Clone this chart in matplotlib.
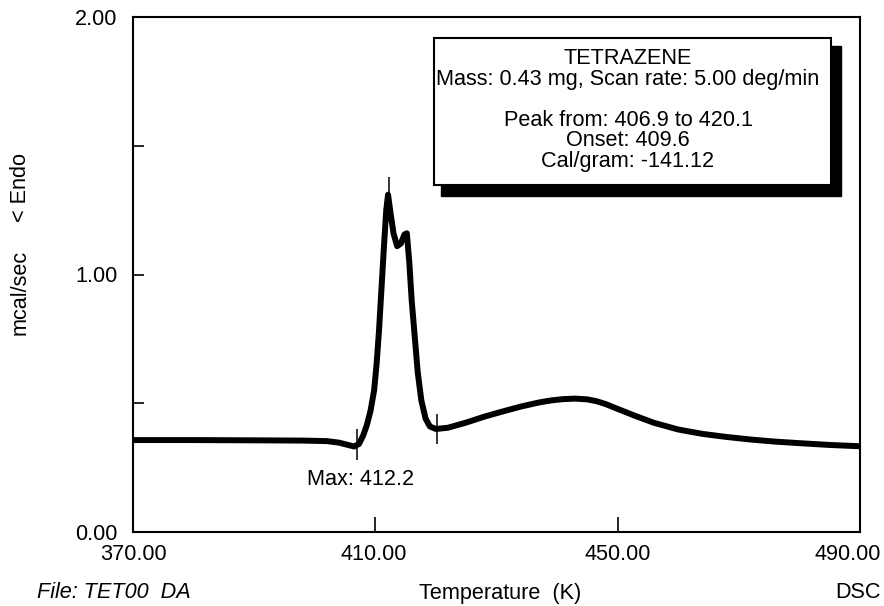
import matplotlib
matplotlib.use("Agg")
import matplotlib.pyplot as plt
from matplotlib.patches import Rectangle
import matplotlib.transforms as mtransforms

plt.rcParams['font.family'] = ['Liberation Sans', 'DejaVu Sans']

# ---- data ----
temperature = [370, 380, 390, 398, 402, 404, 405.5, 406.5, 407.3, 408.0, 408.6,
               409.2, 409.8, 410.2, 410.6, 411.0, 411.4, 411.8, 412.1, 412.5,
               413.0, 413.6, 414.2, 414.8, 415.2, 415.6, 416.0, 416.5, 417.0,
               417.6, 418.3, 419.0, 420.0, 422, 425, 428, 431, 434, 437, 439, 441,
               443, 445, 446.5, 448, 450, 453, 456, 460, 464, 468, 472, 476, 480, 485, 490]
heat_flow = [0.357, 0.357, 0.356, 0.355, 0.353, 0.347, 0.338, 0.332, 0.342, 0.375, 0.415,
             0.47, 0.55, 0.65, 0.78, 0.94, 1.10, 1.25, 1.31, 1.24,
             1.16, 1.11, 1.12, 1.155, 1.16, 1.05, 0.90, 0.76, 0.62,
             0.51, 0.44, 0.41, 0.400, 0.405, 0.425, 0.448, 0.468, 0.487, 0.503, 0.511, 0.516,
             0.518, 0.515, 0.508, 0.497, 0.478, 0.450, 0.424, 0.398, 0.381, 0.369, 0.359, 0.351, 0.345, 0.338, 0.333]

xticks = [370, 410, 450, 490]
xtick_labels = ["370.00", "410.00", "450.00", "490.00"]
yticks = [0.0, 0.5, 1.0, 1.5, 2.0]
ytick_labels = ["0.00", "", "1.00", "", "2.00"]

# peak markers: (temperature, low, high)
marker_T = [406.9, 412.2, 420.1]
marker_lo = [0.28, 1.26, 0.34]
marker_hi = [0.40, 1.38, 0.46]

info_lines = ["TETRAZENE",
              "Mass: 0.43 mg, Scan rate: 5.00 deg/min",
              "Peak from: 406.9 to 420.1",
              "Onset: 409.6",
              "Cal/gram: -141.12"]
max_label = "Max: 412.2"

FS = 15.6
W, H = 884, 606
fig = plt.figure(figsize=(W / 100, H / 100), dpi=100)
L, R, T, B = 133, 860, 17, 532
ax = fig.add_axes([L / W, 1 - B / H, (R - L) / W, (B - T) / H])

ax.plot(temperature, heat_flow, color='black', lw=4.3, solid_capstyle='round',
        solid_joinstyle='round', zorder=3)
ax.vlines(marker_T, marker_lo, marker_hi, color='black', lw=1.1, zorder=4)
ax.text(398.7, 0.202, max_label, fontsize=FS, ha='left', va='center')

ax.set_xlim(370, 490)
ax.set_ylim(0, 2)
for s in ax.spines.values():
    s.set_linewidth(1.5)

ax.set_xticks(xticks)
ax.set_xticklabels(xtick_labels)
ax.set_yticks(yticks)
ax.set_yticklabels(ytick_labels)
ax.tick_params(axis='both', direction='in', labelsize=FS, width=1.2)
ax.tick_params(axis='y', length=8, pad=11)
ax.tick_params(axis='x', length=11, pad=9)
xt = ax.xaxis.get_major_ticks()
for i in (0, len(xt) - 1):
    xt[i].tick1line.set_visible(False)
    xt[i].tick2line.set_visible(False)
last = ax.get_xticklabels()[-1]
last.set_transform(last.get_transform() + mtransforms.ScaledTranslation(-12 / 100, 0, fig.dpi_scale_trans))
second = ax.get_xticklabels()[1]
second.set_transform(second.get_transform() + mtransforms.ScaledTranslation(-2 / 100, 0, fig.dpi_scale_trans))


def fx(x):
    return x / W


def fy(y):
    return 1 - y / H


shadow = Rectangle((fx(441), fy(196)), fx(841) - fx(441), fy(46) - fy(196),
                   transform=fig.transFigure, facecolor='black', edgecolor='black', zorder=5)
box = Rectangle((fx(434), fy(185)), fx(831) - fx(434), fy(38) - fy(185),
                transform=fig.transFigure, facecolor='white', edgecolor='black', lw=1.5, zorder=6)
fig.patches.extend([shadow, box])
cx = 628
for line, y in zip(info_lines, [59, 80, 120, 141, 162]):
    fig.text(fx(cx), fy(y), line, fontsize=FS, ha='center', va='center', zorder=7)

fig.text(fx(20), fy(187), "< Endo", rotation=90, fontsize=FS, ha='center', va='center')
fig.text(fx(20), fy(292), "mcal/sec", rotation=90, fontsize=FS, ha='center', va='center')
fig.text(fx(37), fy(593), "File: TET00  DA", fontsize=FS, style='italic', ha='left', va='center')
fig.text(fx(500), fy(593), "Temperature  (K)", fontsize=FS, ha='center', va='center')
fig.text(fx(881), fy(593), "DSC", fontsize=FS, ha='right', va='center')

fig.savefig("out.png", dpi=100)
